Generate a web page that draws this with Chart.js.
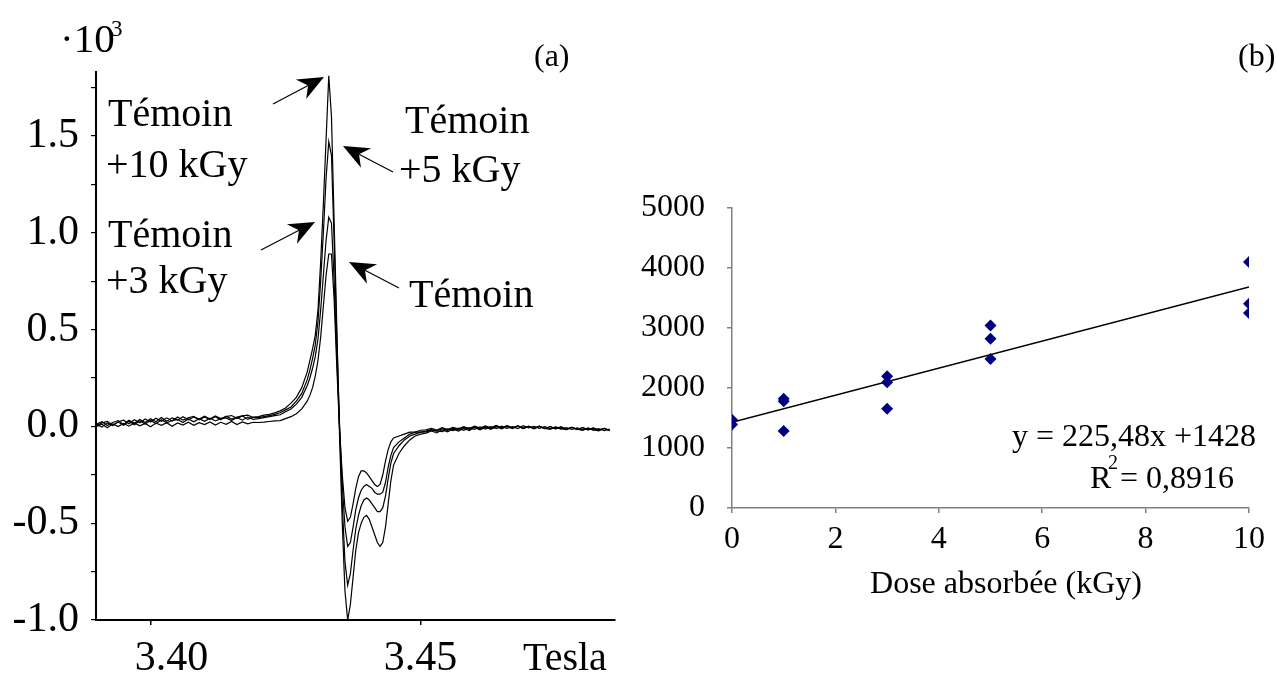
<!DOCTYPE html>
<html lang="fr">
<head>
<meta charset="utf-8">
<title>Spectres RPE et dose absorbée</title>
<script src="https://cdn.jsdelivr.net/npm/chart.js@4.4.0/dist/chart.umd.min.js"></script>
<style>
  html, body { margin: 0; padding: 0; background: #fff; }
  #cadre { position: relative; width: 1277px; height: 675px; }
  #spectre { position: absolute; left: 0; top: 0; }
  #dose { position: absolute; left: 640px; top: 0; }
</style>
</head>
<body>
<div id="cadre">
  <canvas id="spectre" width="640" height="675"></canvas>
  <canvas id="dose" width="637" height="675"></canvas>
</div>
<script>
// === Données du spectre (a) : champ en Tesla, signal en unités x10^3 ===
const champTesla = [
  3.390, 3.391, 3.392, 3.393, 3.394, 3.395, 3.396, 3.397, 3.398, 3.399,
  3.400, 3.401, 3.402, 3.403, 3.404, 3.405, 3.406, 3.407, 3.408, 3.409,
  3.410, 3.411, 3.412, 3.413, 3.414, 3.415, 3.416, 3.417, 3.418, 3.419,
  3.420, 3.421, 3.422, 3.423, 3.424, 3.425, 3.426, 3.427, 3.428, 3.429,
  3.4295, 3.430, 3.4305, 3.431, 3.4315, 3.432, 3.4325, 3.433, 3.4335, 3.434,
  3.4345, 3.435, 3.4355, 3.436, 3.4365, 3.437, 3.4375, 3.438, 3.4385, 3.439,
  3.4395, 3.440, 3.4405, 3.441, 3.4415, 3.442, 3.4425, 3.443, 3.4435, 3.444,
  3.4445, 3.445, 3.446, 3.447, 3.448, 3.449, 3.450,
  3.451, 3.452, 3.453, 3.454, 3.455, 3.456, 3.457, 3.458, 3.459, 3.460,
  3.461, 3.462, 3.463, 3.464, 3.465, 3.466, 3.467, 3.468, 3.469, 3.470,
  3.471, 3.472, 3.473, 3.474, 3.475, 3.476, 3.477, 3.478, 3.479, 3.480,
  3.481, 3.482, 3.483, 3.484, 3.485
];

const temoin10kGy = [
  0.012, 0.024, 0.004, 0.020, 0.030, 0.010, 0.032, 0.016, 0.036, 0.020,
  0.040, 0.024, 0.046, 0.026, 0.044, 0.032, 0.050, 0.034, 0.048, 0.038,
  0.052, 0.038, 0.054, 0.040, 0.050, 0.056, 0.042, 0.054, 0.058, 0.046,
  0.050, 0.058, 0.062, 0.070, 0.080, 0.095, 0.120, 0.150, 0.200, 0.280,
  0.340, 0.400, 0.470, 0.600, 0.850, 1.150, 1.480, 1.810, 1.600, 1.050,
  0.500, -0.050, -0.500, -0.850, -1.000, -0.920, -0.780, -0.640, -0.550, -0.500,
  -0.470, -0.460, -0.480, -0.520, -0.560, -0.600, -0.620, -0.600, -0.520, -0.400,
  -0.280, -0.200, -0.140, -0.100, -0.070, -0.050, -0.040,
  -0.035, -0.024, -0.034, -0.018, -0.028, -0.014, -0.024, -0.010, -0.022, -0.006,
  -0.018, -0.004, -0.015, -0.002, -0.013, 0.000, -0.012, 0.002, -0.010, -0.001,
  -0.013, 0.001, -0.010, -0.015, -0.003, -0.012, -0.017, -0.006, -0.014, -0.021,
  -0.008, -0.018, -0.023, -0.010, -0.020
];

const temoin5kGy = [
  0.005, 0.018, 0.026, 0.006, 0.024, 0.032, 0.014, 0.034, 0.018, 0.038,
  0.022, 0.042, 0.026, 0.044, 0.028, 0.048, 0.032, 0.044, 0.052, 0.034,
  0.049, 0.036, 0.050, 0.034, 0.052, 0.038, 0.048, 0.054, 0.036, 0.048,
  0.045, 0.050, 0.055, 0.062, 0.070, 0.085, 0.100, 0.130, 0.170, 0.240,
  0.290, 0.350, 0.420, 0.540, 0.750, 1.000, 1.280, 1.470, 1.400, 0.950,
  0.450, 0.000, -0.400, -0.700, -0.820, -0.760, -0.640, -0.530, -0.460, -0.410,
  -0.380, -0.370, -0.380, -0.400, -0.420, -0.440, -0.440, -0.420, -0.360, -0.270,
  -0.190, -0.140, -0.100, -0.070, -0.050, -0.040, -0.030,
  -0.028, -0.020, -0.024, -0.027, -0.013, -0.022, -0.009, -0.020, -0.007, -0.016,
  -0.003, -0.014, -0.001, -0.012, 0.001, -0.010, -0.002, -0.012, 0.003, -0.008,
  0.000, -0.010, -0.002, -0.012, -0.004, -0.014, -0.006, -0.016, -0.008, -0.018,
  -0.010, -0.020, -0.012, -0.022, -0.014
];

const temoin3kGy = [
  0.010, -0.004, 0.018, 0.004, 0.022, 0.006, 0.026, 0.008, 0.029, 0.012,
  0.032, 0.014, 0.034, 0.018, 0.030, 0.036, 0.020, 0.038, 0.024, 0.040,
  0.026, 0.042, 0.028, 0.040, 0.044, 0.030, 0.046, 0.032, 0.048, 0.036,
  0.040, 0.045, 0.050, 0.055, 0.060, 0.075, 0.090, 0.115, 0.150, 0.210,
  0.250, 0.300, 0.360, 0.450, 0.600, 0.780, 0.960, 1.080, 1.050, 0.750,
  0.350, 0.000, -0.300, -0.520, -0.620, -0.600, -0.520, -0.430, -0.370, -0.330,
  -0.310, -0.300, -0.310, -0.320, -0.340, -0.350, -0.350, -0.340, -0.290, -0.210,
  -0.150, -0.110, -0.080, -0.060, -0.040, -0.030, -0.030,
  -0.025, -0.017, -0.025, -0.012, -0.021, -0.009, -0.018, -0.005, -0.015, -0.003,
  -0.013, -0.001, -0.011, 0.001, -0.009, 0.002, -0.009, 0.001, -0.011, 0.000,
  -0.010, 0.001, -0.012, -0.001, -0.013, -0.003, -0.015, -0.004, -0.016, -0.006,
  -0.018, -0.008, -0.019, -0.010, -0.021
];

const temoin = [
  0.000, 0.011, -0.007, 0.013, -0.001, 0.015, 0.001, 0.018, 0.003, 0.015,
  -0.002, 0.017, 0.005, 0.019, 0.001, 0.018, 0.007, 0.021, 0.005, 0.019,
  0.009, 0.023, 0.007, 0.021, 0.011, 0.025, 0.009, 0.023, 0.013, 0.021,
  0.020, 0.022, 0.025, 0.028, 0.030, 0.040, 0.050, 0.065, 0.090, 0.130,
  0.160, 0.200, 0.260, 0.340, 0.460, 0.620, 0.780, 0.890, 0.890, 0.650,
  0.300, -0.020, -0.250, -0.420, -0.490, -0.470, -0.400, -0.320, -0.260, -0.230,
  -0.230, -0.240, -0.260, -0.280, -0.300, -0.310, -0.300, -0.250, -0.180, -0.120,
  -0.080, -0.060, -0.050, -0.040, -0.030, -0.030, -0.020,
  -0.018, -0.011, -0.019, -0.007, -0.016, -0.005, -0.013, -0.001, -0.011, 0.001,
  -0.009, 0.003, -0.008, 0.005, -0.007, 0.004, -0.008, 0.003, -0.009, 0.001,
  -0.010, 0.000, -0.011, -0.001, -0.013, -0.003, -0.015, -0.005, -0.017, -0.007,
  -0.018, -0.009, -0.020, -0.011, -0.023
];

const spectreXTicks = [3.40, 3.45];
const spectreYTicks = [-1.0, -0.75, -0.5, -0.25, 0.0, 0.25, 0.5, 0.75, 1.0, 1.25, 1.5, 1.75];

// === Données de la dosimétrie (b) ===
const doseAbsorbee = [0, 0, 1, 1, 1, 3, 3, 3, 5, 5, 5, 10, 10, 10];
const intensite = [1470, 1390, 1820, 1780, 1285, 2195, 2095, 1655, 3040, 2820, 2485, 4100, 3405, 3250];
const droiteX = [0, 10];
const droiteY = [1428, 3683];
const doseXTicks = [0, 2, 4, 6, 8, 10];
const doseYTicks = [0, 1000, 2000, 3000, 4000, 5000];

const POLICE = "'Liberation Serif', 'Times New Roman', serif";

// === Fonctions de dessin des annotations ===
function texte(ctx, txt, x, y, taille, align) {
  ctx.font = taille + "px " + POLICE;
  ctx.textAlign = align || "left";
  ctx.textBaseline = "alphabetic";
  ctx.fillStyle = "#000";
  ctx.fillText(txt, x, y);
}

function fleche(ctx, x1, y1, x2, y2) {
  const ang = Math.atan2(y2 - y1, x2 - x1);
  const L = 26, W = 11, creux = 8;
  const cx = Math.cos(ang), sy = Math.sin(ang);
  const nx = -sy, ny = cx;
  const bx = x2 - cx * L, by = y2 - sy * L;
  const mx = x2 - cx * (L - creux), my = y2 - sy * (L - creux);
  ctx.strokeStyle = "#000";
  ctx.lineWidth = 1.2;
  ctx.beginPath();
  ctx.moveTo(x1, y1);
  ctx.lineTo(mx, my);
  ctx.stroke();
  ctx.fillStyle = "#000";
  ctx.beginPath();
  ctx.moveTo(x2, y2);
  ctx.lineTo(bx + nx * W, by + ny * W);
  ctx.lineTo(mx, my);
  ctx.lineTo(bx - nx * W, by - ny * W);
  ctx.closePath();
  ctx.fill();
}

// les étiquettes 3.40 / 3.45 ne sont pas centrées pareil sur leur graduation
const decalageEtiquettes = [21, 0];

const annotationsA = {
  id: "annotationsA",
  afterDraw(chart) {
    const ctx = chart.ctx;
    const sx = chart.scales.x;
    ctx.save();
    spectreXTicks.forEach((v, i) => {
      texte(ctx, v.toFixed(2), sx.getPixelForValue(v) + decalageEtiquettes[i], 670, 42, "center");
    });
    texte(ctx, "Tesla", 523, 670, 40);
    // facteur d'échelle
    texte(ctx, "\u00b710", 60, 52, 41);
    texte(ctx, "3", 111, 36, 23);
    texte(ctx, "(a)", 534, 66, 32);
    // étiquettes des courbes
    texte(ctx, "Témoin", 108, 126, 40);
    texte(ctx, "+10 kGy", 106, 177, 40);
    texte(ctx, "Témoin", 108, 247, 40);
    texte(ctx, "+3 kGy", 106, 293, 40);
    texte(ctx, "Témoin", 405, 133, 40);
    texte(ctx, "+5 kGy", 399, 182, 40);
    texte(ctx, "Témoin", 409, 307, 40);
    fleche(ctx, 273, 104, 324, 77);
    fleche(ctx, 393, 172, 343, 146);
    fleche(ctx, 261, 250, 315, 222);
    fleche(ctx, 399, 288, 349, 262);
    ctx.restore();
  }
};

const annotationsB = {
  id: "annotationsB",
  afterDraw(chart) {
    const ctx = chart.ctx;
    ctx.save();
    texte(ctx, "(b)", 598, 66, 32);
    texte(ctx, "y = 225,48x +1428", 616, 446, 32, "right");
    texte(ctx, "R", 450, 488, 32);
    texte(ctx, "2", 468, 469, 20);
    texte(ctx, "= 0,8916", 480, 488, 32);
    texte(ctx, "Dose absorbée (kGy)", 366, 593, 32, "center");
    ctx.restore();
  }
};

// === Graphique (a) : spectres ===
const courbes = [temoin10kGy, temoin5kGy, temoin3kGy, temoin];

new Chart(document.getElementById("spectre"), {
  type: "scatter",
  data: {
    datasets: courbes.map(c => ({
      data: champTesla.map((x, i) => ({ x: x, y: c[i] })),
      showLine: true,
      borderColor: "#000",
      borderWidth: 1.2,
      pointRadius: 0,
      fill: false
    }))
  },
  options: {
    responsive: false,
    animation: false,
    devicePixelRatio: 1,
    layout: { padding: { left: 0, right: 25, top: 72, bottom: 0 } },
    plugins: { legend: { display: false }, tooltip: { enabled: false } },
    scales: {
      x: {
        type: "linear",
        min: 3.3899,
        max: 3.486,
        afterBuildTicks: s => { s.ticks = spectreXTicks.map(v => ({ value: v })); },
        afterFit: s => { s.height = 55; },
        grid: { display: true, drawOnChartArea: false, drawTicks: true, tickLength: 5, color: "#000", lineWidth: 1.5 },
        border: { display: true, color: "#000", width: 2 },
        ticks: { display: false }
      },
      y: {
        type: "linear",
        min: -1.0,
        max: 1.83,
        afterBuildTicks: s => { s.ticks = spectreYTicks.map(v => ({ value: v })); },
        afterFit: s => { s.width = 96; },
        grid: { display: true, drawOnChartArea: false, drawTicks: true, tickLength: 5, color: "#000", lineWidth: 1.2 },
        border: { display: true, color: "#000", width: 2 },
        ticks: {
          autoSkip: false, color: "#000", padding: 12,
          font: { family: POLICE, size: 42 },
          callback: v => {
            const r = Math.round(v * 100) / 100;
            return Math.abs(r * 2 - Math.round(r * 2)) < 1e-6 ? (r === 0 ? "0.0" : r.toFixed(1)) : "";
          }
        }
      }
    }
  },
  plugins: [annotationsA]
});

// === Graphique (b) : intensité en fonction de la dose ===
new Chart(document.getElementById("dose"), {
  type: "scatter",
  data: {
    datasets: [
      {
        data: doseAbsorbee.map((x, i) => ({ x: x, y: intensite[i] })),
        pointStyle: "rectRot",
        pointRadius: 6,
        backgroundColor: "#000080",
        borderColor: "#000080",
        borderWidth: 0
      },
      {
        data: droiteX.map((x, i) => ({ x: x, y: droiteY[i] })),
        showLine: true,
        pointRadius: 0,
        borderColor: "#000",
        borderWidth: 1.5
      }
    ]
  },
  options: {
    responsive: false,
    animation: false,
    devicePixelRatio: 1,
    layout: { padding: { left: 0, right: 28, top: 208, bottom: 0 } },
    plugins: { legend: { display: false }, tooltip: { enabled: false } },
    scales: {
      x: {
        type: "linear",
        min: 0,
        max: 10,
        afterBuildTicks: s => { s.ticks = doseXTicks.map(v => ({ value: v })); },
        afterFit: s => { s.height = 167; },
        grid: { display: true, drawOnChartArea: false, drawTicks: true, tickLength: 5, color: "#808080", lineWidth: 1.5 },
        border: { display: true, color: "#808080", width: 1.5 },
        ticks: { autoSkip: false, maxRotation: 0, color: "#000", padding: 7, font: { family: POLICE, size: 32 } }
      },
      y: {
        type: "linear",
        min: 0,
        max: 5000,
        afterBuildTicks: s => { s.ticks = doseYTicks.map(v => ({ value: v })); },
        afterFit: s => { s.width = 92; },
        grid: { display: true, drawOnChartArea: false, drawTicks: true, tickLength: 5, color: "#808080", lineWidth: 1.5 },
        border: { display: true, color: "#808080", width: 1.5 },
        ticks: { autoSkip: false, color: "#000", padding: 22, font: { family: POLICE, size: 32 }, callback: v => String(v) }
      }
    }
  },
  plugins: [annotationsB]
});
</script>
</body>
</html>
